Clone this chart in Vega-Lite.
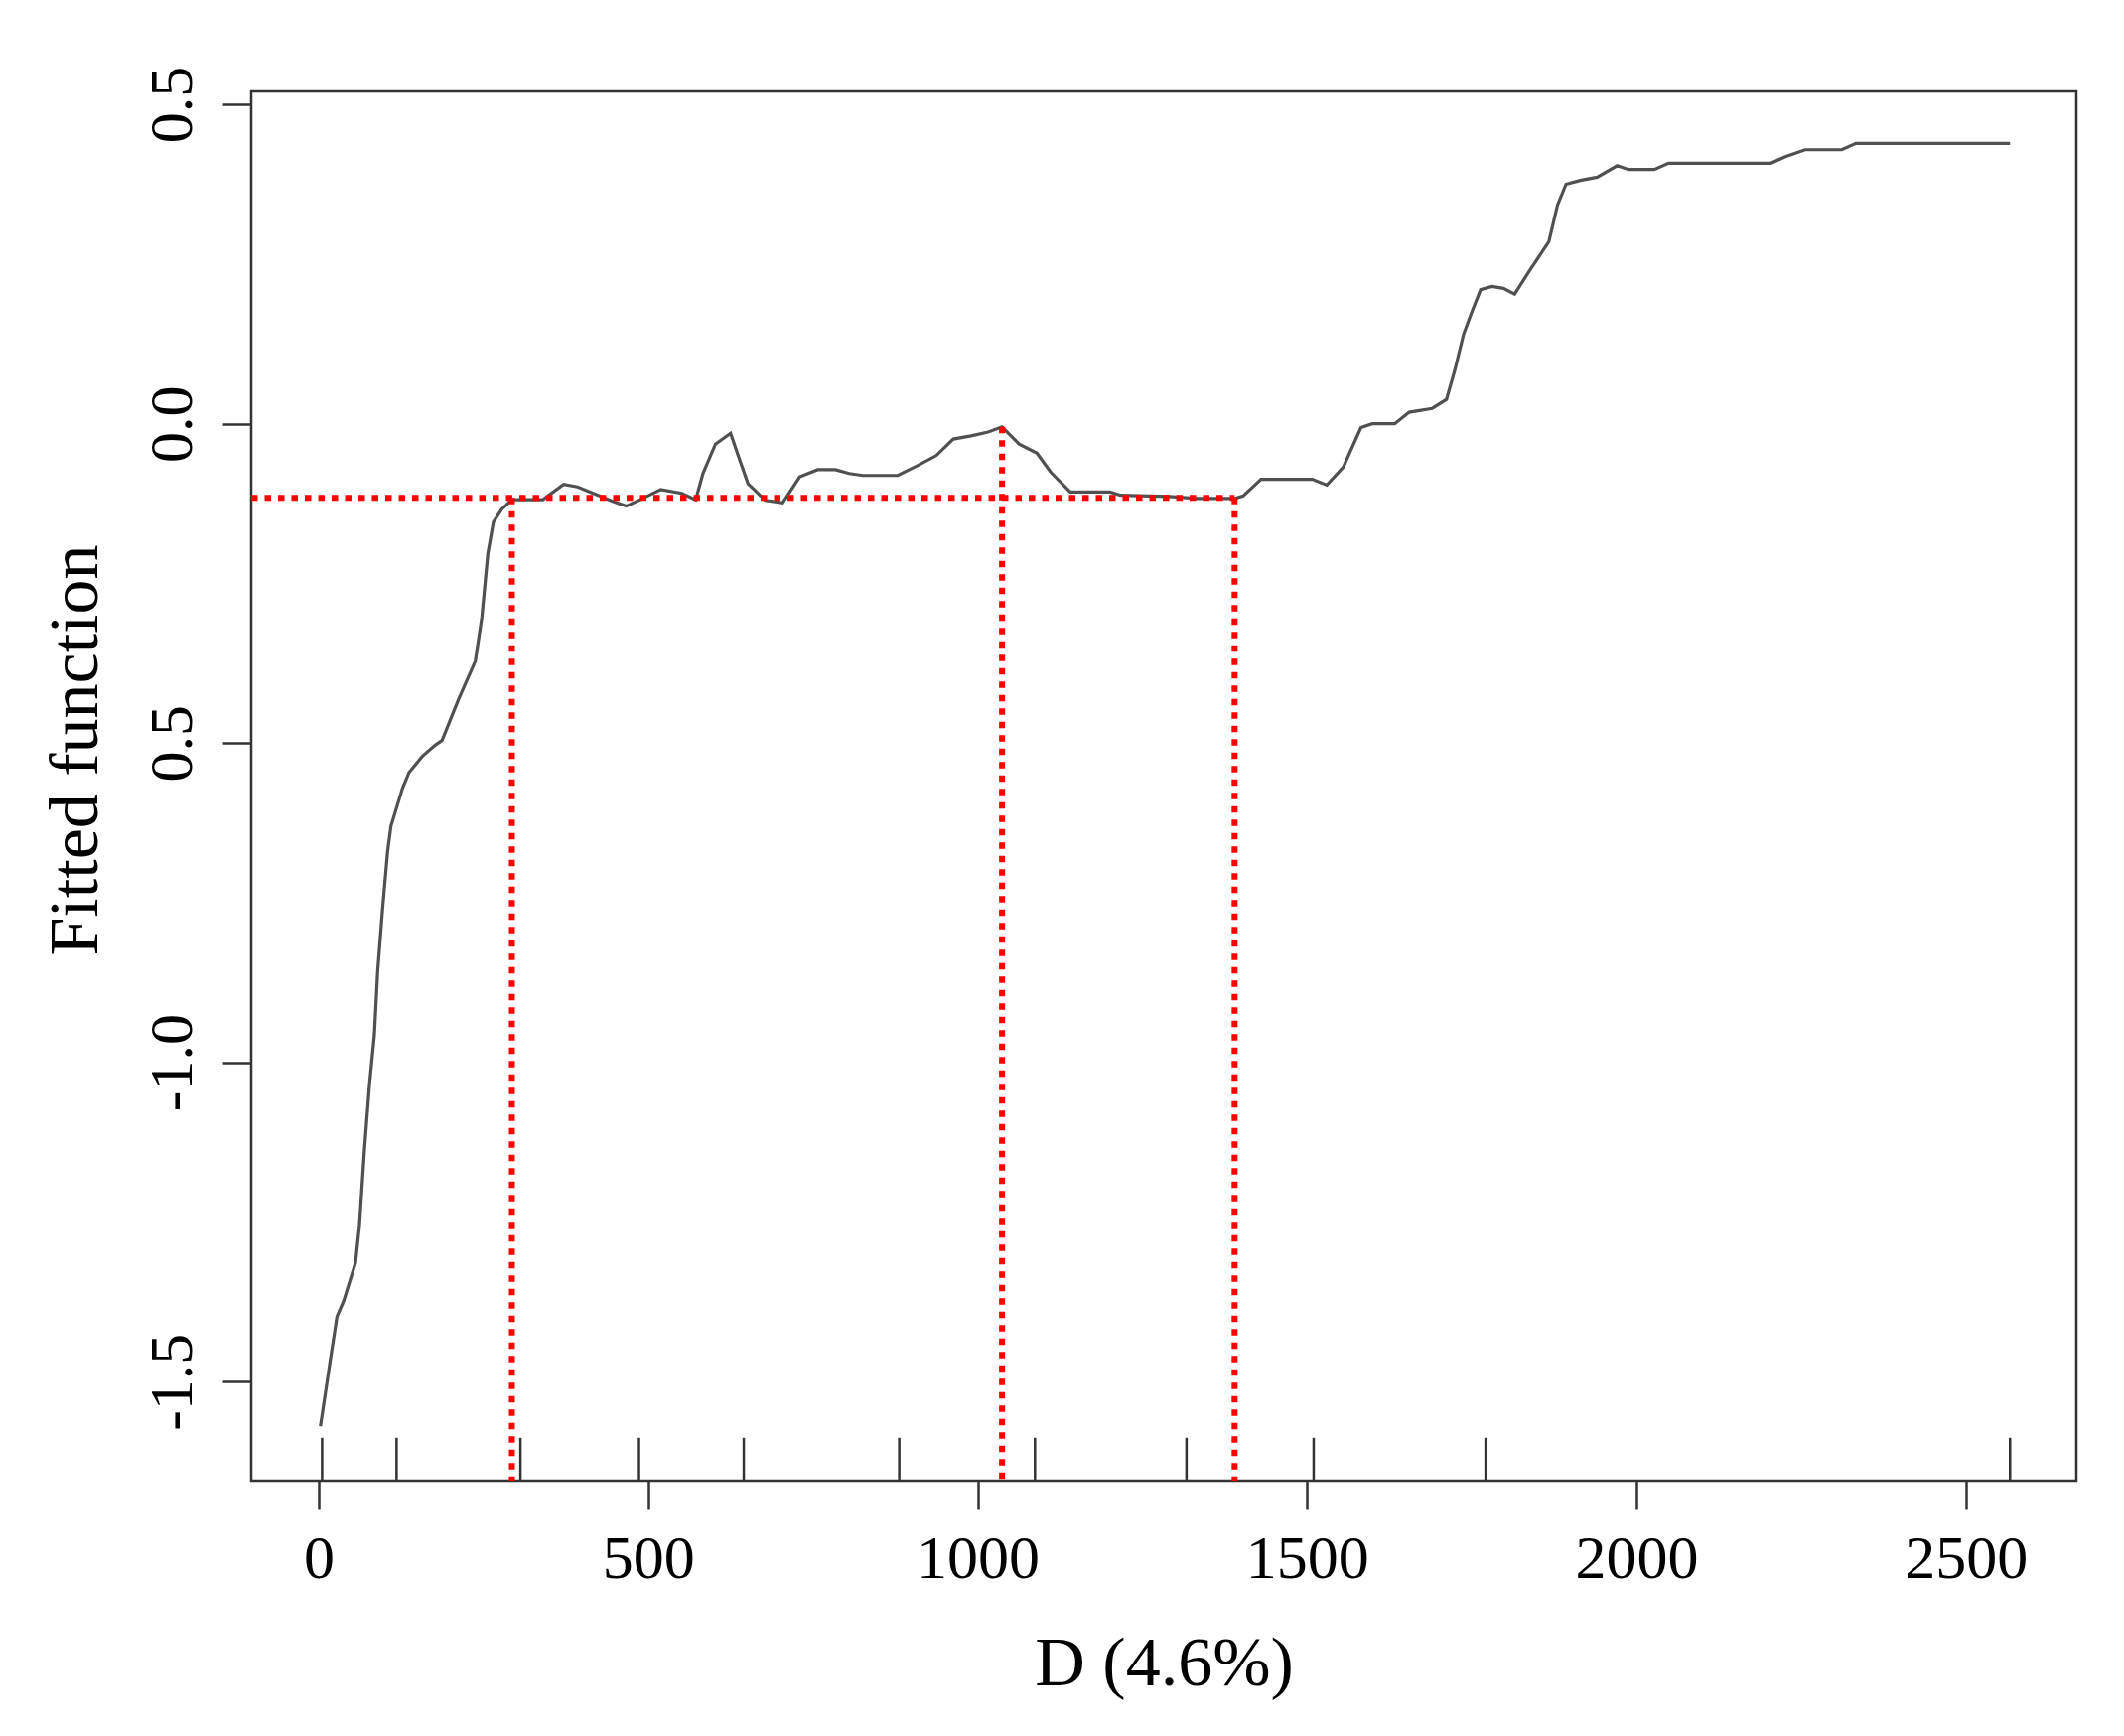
{
  "$schema": "https://vega.github.io/schema/vega-lite/v6.json",
  "width": 1838,
  "height": 1399,
  "autosize": {"type": "none"},
  "padding": {"left": 253, "top": 92, "right": 48, "bottom": 257},
  "background": "white",
  "config": {
    "view": {"stroke": "#333333", "strokeWidth": 2.5},
    "font": "Liberation Serif",
    "axis": {"domain": false, "grid": false, "tickColor": "#333333", "tickWidth": 2.5, "labelColor": "#000000", "titleColor": "#000000", "labelFont": "Liberation Serif", "titleFont": "Liberation Serif", "titleFontWeight": "normal", "labelFontSize": 62, "titleFontSize": 70}
  },
  "datasets": {
    "curve": [
      {"d":2.5,"f":-1.570},{"d":16.5,"f":-1.473},{"d":27.6,"f":-1.398},{"d":37.7,"f":-1.374},{"d":55.7,"f":-1.314},{"d":61.7,"f":-1.255},{"d":69.3,"f":-1.136},{"d":76.8,"f":-1.036},{"d":84.3,"f":-0.957},{"d":89.3,"f":-0.858},{"d":96.8,"f":-0.759},{"d":104.4,"f":-0.670},{"d":109.5,"f":-0.630},{"d":127,"f":-0.571},{"d":137,"f":-0.546},{"d":157,"f":-0.521},{"d":177,"f":-0.503},{"d":187,"f":-0.496},{"d":212,"f":-0.432},{"d":237.5,"f":-0.372},{"d":247.5,"f":-0.303},{"d":256.5,"f":-0.204},{"d":265,"f":-0.154},{"d":277.6,"f":-0.134},{"d":293,"f":-0.119},{"d":340,"f":-0.119},{"d":371.5,"f":-0.095},{"d":392.6,"f":-0.099},{"d":424,"f":-0.112},{"d":445,"f":-0.121},{"d":466.6,"f":-0.129},{"d":487.7,"f":-0.119},{"d":519,"f":-0.103},{"d":551,"f":-0.109},{"d":572,"f":-0.119},{"d":583,"f":-0.078},{"d":602,"f":-0.032},{"d":625,"f":-0.015},{"d":635.5,"f":-0.047},{"d":651.5,"f":-0.094},{"d":677.7,"f":-0.120},{"d":704,"f":-0.124},{"d":730,"f":-0.083},{"d":757,"f":-0.072},{"d":784,"f":-0.072},{"d":805,"f":-0.078},{"d":826,"f":-0.081},{"d":878.6,"f":-0.081},{"d":910,"f":-0.065},{"d":937,"f":-0.050},{"d":963,"f":-0.024},{"d":990,"f":-0.019},{"d":1016,"f":-0.013},{"d":1037,"f":-0.005},{"d":1063,"f":-0.032},{"d":1090,"f":-0.046},{"d":1111,"f":-0.076},{"d":1140.6,"f":-0.107},{"d":1201,"f":-0.107},{"d":1216.7,"f":-0.112},{"d":1290.7,"f":-0.114},{"d":1333,"f":-0.117},{"d":1391,"f":-0.117},{"d":1403,"f":-0.113},{"d":1430,"f":-0.087},{"d":1508,"f":-0.087},{"d":1530,"f":-0.096},{"d":1555,"f":-0.068},{"d":1581.8,"f":-0.006},{"d":1599,"f":0.0},{"d":1633,"f":0.0},{"d":1655,"f":0.018},{"d":1690,"f":0.024},{"d":1711.6,"f":0.038},{"d":1724,"f":0.083},{"d":1737.5,"f":0.140},{"d":1750.4,"f":0.176},{"d":1763.5,"f":0.210},{"d":1780.7,"f":0.215},{"d":1798,"f":0.212},{"d":1815,"f":0.203},{"d":1836.6,"f":0.238},{"d":1867,"f":0.285},{"d":1880,"f":0.342},{"d":1893,"f":0.375},{"d":1914.5,"f":0.381},{"d":1940.4,"f":0.386},{"d":1970.6,"f":0.404},{"d":1988,"f":0.398},{"d":2027,"f":0.398},{"d":2048.6,"f":0.408},{"d":2204,"f":0.408},{"d":2226,"f":0.418},{"d":2256,"f":0.429},{"d":2311.5,"f":0.429},{"d":2333,"f":0.439},{"d":2567,"f":0.439}
    ],
    "rug": [{"d":5},{"d":118},{"d":306},{"d":486},{"d":645},{"d":881},{"d":1087},{"d":1317},{"d":1510},{"d":1771},{"d":2567}],
    "refs": [
      {"x":-102.6,"x2":1390,"y":-0.116,"y2":-0.116},
      {"x":293,"x2":293,"y":-0.116,"y2":-1.6552},
      {"x":1037,"x2":1037,"y":-0.005,"y2":-1.6552},
      {"x":1390,"x2":1390,"y":-0.116,"y2":-1.6552}
    ]
  },
  "layer": [
    {
      "data": {"name": "curve"},
      "mark": {"type": "line", "color": "#505050", "strokeWidth": 3.2},
      "encoding": {
        "x": {"field": "d", "type": "quantitative", "scale": {"domain": [-102.6, 2667.6], "nice": false, "zero": false},
          "axis": {"title": "D (4.6%)", "values": [0, 500, 1000, 1500, 2000, 2500], "format": "d", "tickSize": 28, "labelPadding": 69, "labelBaseline": "alphabetic", "labelAlign": "center", "labelFlush": false, "titleX": 919, "titleY": 205, "titleBaseline": "alphabetic", "titleAlign": "center"}},
        "y": {"field": "f", "type": "quantitative", "scale": {"domain": [-1.6552, 0.5204], "nice": false, "zero": false},
          "axis": {"title": "Fitted function", "values": [-1.5, -1.0, -0.5, 0, 0.5], "labelExpr": "datum.value == -0.5 ? '0.5' : (datum.value < 0 ? '-' + format(-datum.value, '.1f') : format(datum.value, '.1f'))", "tickSize": 29, "labelPadding": 32, "labelAngle": 270, "labelAlign": "center", "labelBaseline": "alphabetic", "labelFlush": false, "titleAngle": 270, "titleX": -156, "titleY": 663, "titleBaseline": "alphabetic", "titleAlign": "center"}}
      }
    },
    {
      "data": {"name": "rug"},
      "mark": {"type": "rule", "color": "#333333", "strokeWidth": 2.5},
      "encoding": {
        "x": {"field": "d", "type": "quantitative"},
        "y": {"datum": -1.6552, "type": "quantitative"},
        "y2": {"datum": -1.588}
      }
    },
    {
      "data": {"name": "refs"},
      "mark": {"type": "rule", "color": "#ff0000", "strokeWidth": 6, "strokeDash": [6.5, 7]},
      "encoding": {
        "x": {"field": "x", "type": "quantitative"},
        "x2": {"field": "x2"},
        "y": {"field": "y", "type": "quantitative"},
        "y2": {"field": "y2"}
      }
    }
  ]
}
